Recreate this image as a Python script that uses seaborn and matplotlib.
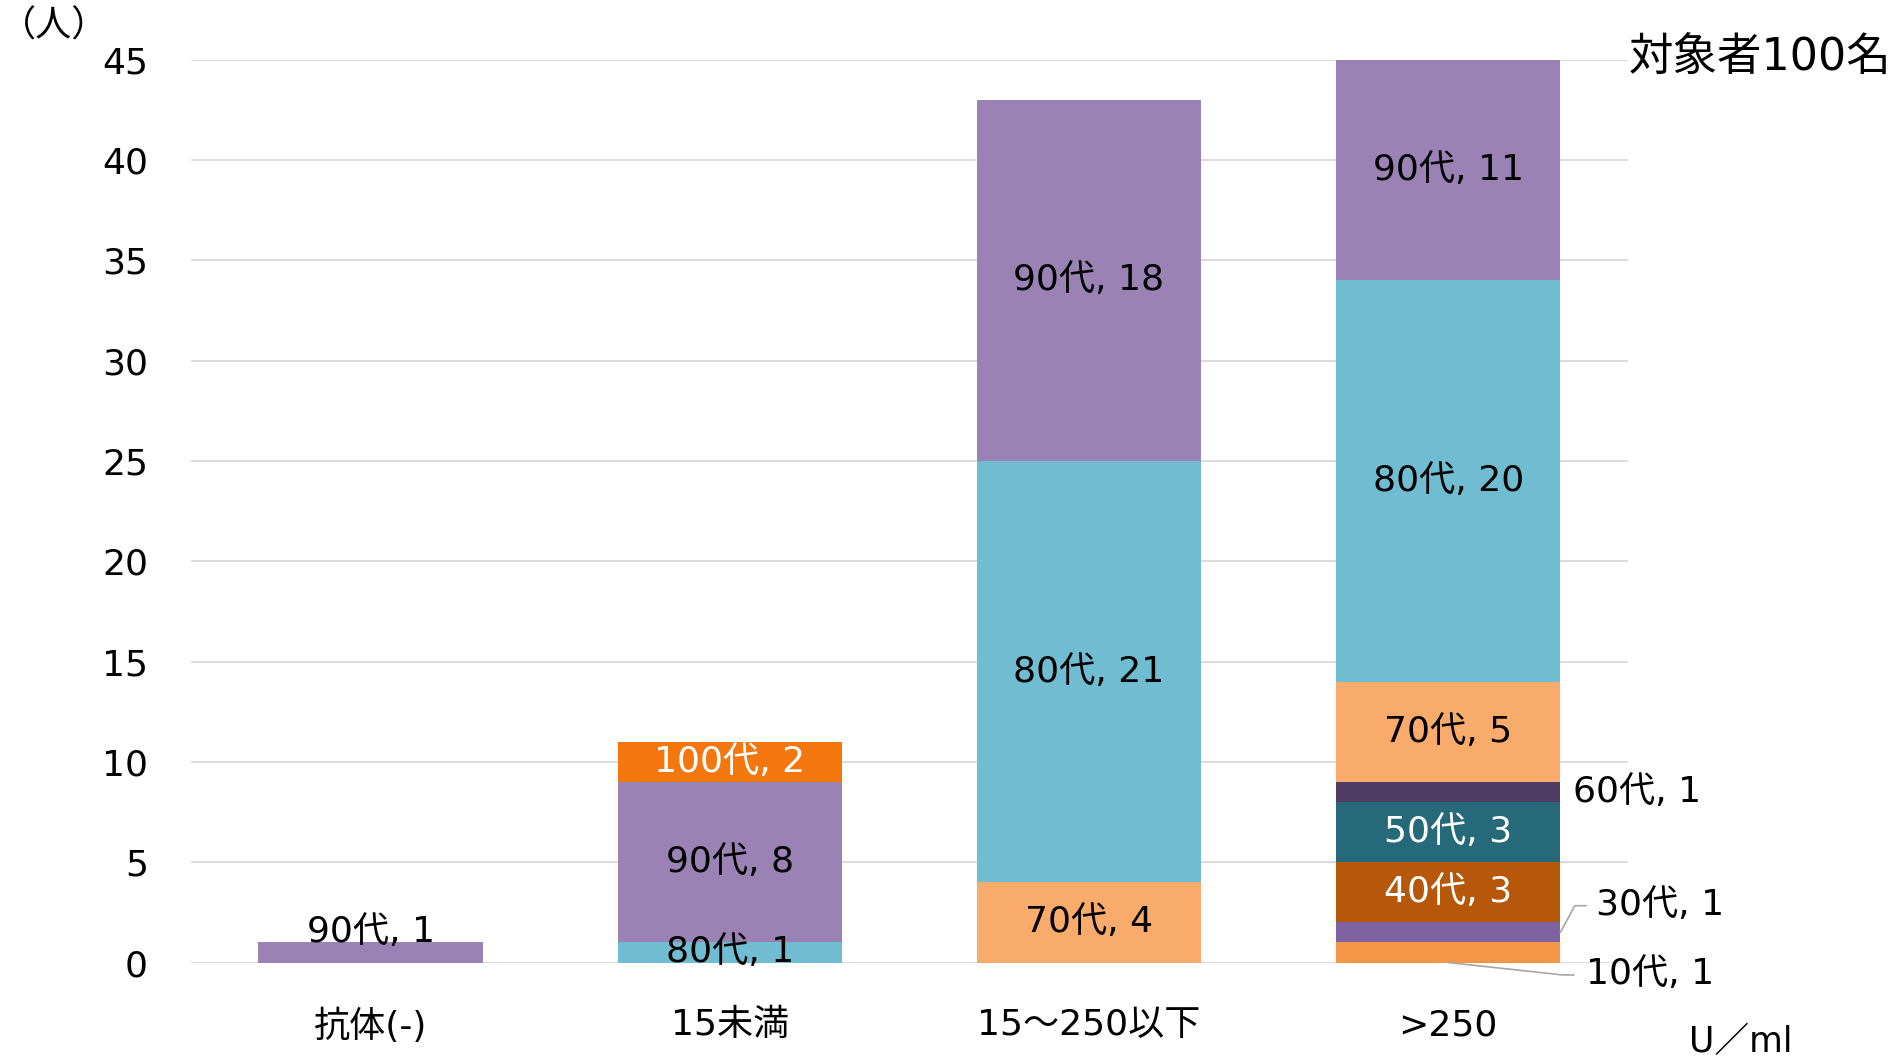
import pandas as pd
import matplotlib
matplotlib.use('Agg')
import matplotlib.pyplot as plt
import seaborn as sns

# Categories on the x axis (antibody titer, U/ml)
categories = ["抗体(-)", "15未満", "15～250以下", ">250"]

# Age groups, stacked from bottom to top
age_groups = ["10代", "30代", "40代", "50代", "60代", "70代", "80代", "90代", "100代"]

# Number of people per age group in each category
n_10s = [0, 0, 0, 1]
n_30s = [0, 0, 0, 1]
n_40s = [0, 0, 0, 3]
n_50s = [0, 0, 0, 3]
n_60s = [0, 0, 0, 1]
n_70s = [0, 0, 4, 5]
n_80s = [0, 1, 21, 20]
n_90s = [1, 8, 18, 11]
n_100s = [0, 2, 0, 0]

colors = ["#F79646", "#7F63A0", "#B65709", "#266A7A", "#4F3C62",
          "#F9AB6B", "#70BCD0", "#9A83B4", "#F3760F"]
white_text = {"40代", "50代", "100代"}

# Build a long table: one row per category and age group
counts = [n_10s, n_30s, n_40s, n_50s, n_60s, n_70s, n_80s, n_90s, n_100s]
rows = []
for g, vals in zip(age_groups, counts):
    for c, v in zip(categories, vals):
        rows.append({"category": c, "age": g, "count": v})
df = pd.DataFrame(rows)

# Bottom of each segment and cumulative top
df["top"] = df.groupby("category")["count"].cumsum()
df["bottom"] = df["top"] - df["count"]

sns.set_theme(style="white")
# DejaVu for latin/digits (wide like the original), Noto CJK for Japanese
plt.rcParams['font.family'] = ['DejaVu Sans', 'Noto Sans CJK JP']
plt.rcParams['text.color'] = 'black'
plt.rcParams['xtick.color'] = 'black'
plt.rcParams['ytick.color'] = 'black'

fig = plt.figure(figsize=(19, 10.57), dpi=100)
ax = fig.add_axes([0.1005, 0.0894, 0.7563, 0.8543])

# Stacked bars: draw cumulative heights from the top group down
for g, col in reversed(list(zip(age_groups, colors))):
    sub = df[df["age"] == g]
    sns.barplot(data=sub, x="category", y="top", order=categories,
                color=col, width=0.624, saturation=1, linewidth=0,
                edgecolor="none", ax=ax, zorder=2)

# Segment labels
fs = 26
for _, r in df[df["count"] > 0].iterrows():
    i = categories.index(r["category"])
    label = f"{r['age']}, {r['count']}"
    tc = "white" if r["age"] in white_text else "black"
    mid = r["bottom"] + r["count"] / 2
    if r["category"] == ">250" and r["age"] == "60代":
        ax.text(i + 0.347, mid, label, ha="left", va="center", fontsize=fs, color=tc)
    elif r["category"] == ">250" and r["age"] == "30代":
        ax.plot([i + 0.312, i + 0.352, i + 0.384], [mid, mid + 1.33, mid + 1.33],
                color="#A6A6A6", lw=1.2, clip_on=False, zorder=3)
        ax.text(i + 0.41, mid + 1.35, label, ha="left", va="center", fontsize=fs, color=tc)
    elif r["category"] == ">250" and r["age"] == "10代":
        ax.plot([i, i + 0.318, i + 0.35], [r["bottom"], -0.62, -0.62],
                color="#A6A6A6", lw=1.2, clip_on=False, zorder=3)
        ax.text(i + 0.382, -0.57, label, ha="left", va="center", fontsize=fs, color=tc)
    elif r["category"] == "抗体(-)":
        ax.text(i, mid + 1.0, label, ha="center", va="center", fontsize=fs, color=tc)
    else:
        ax.text(i, mid, label, ha="center", va="center", fontsize=fs, color=tc)

# Axes styling
ax.set_xlim(-0.5, 3.5)
ax.set_ylim(0, 45)
ax.set_yticks(range(0, 46, 5))
ax.yaxis.grid(True, color="#D9D9D9", linewidth=1.3, zorder=0)
ax.set_axisbelow(True)
for s in ax.spines.values():
    s.set_visible(False)
ax.set_xlabel("")
ax.set_ylabel("")
ax.tick_params(axis="y", length=0, pad=31, labelsize=26)
ax.tick_params(axis="x", length=0, pad=33, labelsize=26)

# Extra annotations
fig.text(0.0, 0.975, "（人）", fontsize=26, ha="left", va="center")
fig.text(0.857, 0.946, "対象者100名", fontsize=32, ha="left", va="center")
fig.text(0.889, 0.014, "U／ml", fontsize=25, ha="left", va="center")

plt.savefig("out.png", dpi=100)
plt.close()
